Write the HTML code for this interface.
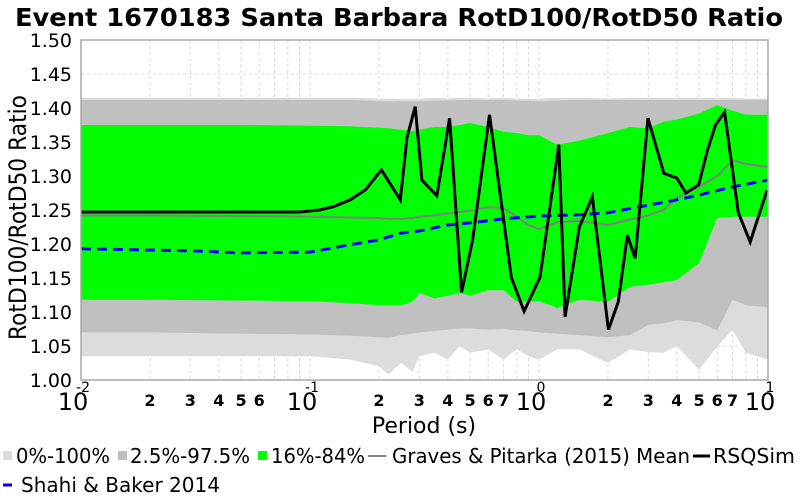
<!DOCTYPE html>
<html><head><meta charset="utf-8"><style>
html,body{margin:0;padding:0;background:#fff;}
svg{display:block;font-family:"DejaVu Sans","Liberation Sans",sans-serif;}
</style></head><body>
<svg id="chart" width="800" height="500" viewBox="0 0 800 500"></svg>
<script>
// ---- data ----
const bandPeriods=[0.01,0.02,0.05,0.1,0.15,0.2,0.22,0.25,0.28,0.3,0.35,0.4,0.45,0.5,0.6,0.7,0.8,0.9,1.0,1.2,1.5,2.0,2.5,3.0,3.5,4.0,5.0,6.0,7.0,8.0,10.0];
const p0Low=[1.035,1.035,1.035,1.035,1.03,1.02,1.008,1.025,1.012,1.035,1.04,1.03,1.05,1.04,1.045,1.03,1.045,1.035,1.03,1.045,1.045,1.025,1.045,1.041,1.04,1.05,1.015,1.049,1.074,1.04,1.03];
const p0High=[1.415,1.415,1.415,1.415,1.415,1.414,1.414,1.413,1.413,1.414,1.415,1.414,1.415,1.415,1.414,1.415,1.414,1.413,1.414,1.415,1.415,1.414,1.415,1.415,1.415,1.415,1.415,1.415,1.415,1.414,1.414];
const p2Low=[1.07,1.07,1.068,1.067,1.065,1.063,1.062,1.066,1.068,1.07,1.072,1.074,1.076,1.076,1.074,1.075,1.073,1.072,1.07,1.068,1.066,1.063,1.066,1.081,1.083,1.088,1.085,1.073,1.118,1.11,1.107];
const p2High=[1.412,1.412,1.412,1.412,1.412,1.41,1.41,1.41,1.41,1.41,1.411,1.411,1.412,1.412,1.412,1.412,1.411,1.411,1.41,1.411,1.412,1.412,1.412,1.412,1.412,1.412,1.412,1.412,1.412,1.412,1.412];
const p16Low=[1.118,1.118,1.117,1.116,1.113,1.11,1.11,1.11,1.115,1.128,1.12,1.124,1.128,1.124,1.132,1.132,1.115,1.115,1.116,1.106,1.118,1.115,1.137,1.14,1.144,1.147,1.172,1.238,1.24,1.24,1.24];
const p16High=[1.375,1.375,1.375,1.374,1.373,1.371,1.37,1.368,1.366,1.368,1.372,1.372,1.375,1.378,1.372,1.365,1.363,1.36,1.36,1.346,1.352,1.363,1.372,1.37,1.38,1.383,1.392,1.404,1.396,1.39,1.39];
const gpMean=[1.242,1.242,1.241,1.24,1.239,1.238,1.237,1.237,1.238,1.24,1.242,1.245,1.247,1.249,1.254,1.253,1.24,1.228,1.222,1.232,1.234,1.228,1.236,1.242,1.25,1.268,1.284,1.3,1.323,1.318,1.313];
const sbPeriods=[0.01,0.03,0.05,0.1,0.15,0.2,0.25,0.3,0.4,0.5,0.7,1.0,1.5,2.0,3.0,4.0,5.0,7.0,10.0];
const sbValues=[1.193,1.19,1.187,1.188,1.199,1.206,1.216,1.219,1.228,1.231,1.237,1.241,1.243,1.246,1.257,1.265,1.272,1.284,1.294];
const rsPeriods=[0.01,0.05,0.09,0.11,0.127,0.15,0.175,0.205,0.248,0.265,0.288,0.308,0.358,0.407,0.459,0.513,0.608,0.757,0.861,1.01,1.22,1.30,1.50,1.71,2.01,2.22,2.43,2.63,2.99,3.51,4.0,4.38,4.98,5.44,5.9,6.46,7.42,8.36,9.9];
const rsValues=[1.247,1.247,1.247,1.25,1.255,1.265,1.28,1.309,1.265,1.356,1.402,1.294,1.271,1.385,1.129,1.206,1.39,1.151,1.101,1.151,1.346,1.093,1.225,1.269,1.074,1.115,1.213,1.179,1.385,1.304,1.297,1.275,1.287,1.338,1.375,1.394,1.246,1.203,1.279];
const yTicks=[1.00,1.05,1.10,1.15,1.20,1.25,1.30,1.35,1.40,1.45,1.50];
const xMajor=[-2,-1,0,1];
// ---- axes ----
const L=81,R=768,T=40,B=380;
const X=p=>L+(Math.log10(p)+2)/3*(R-L);
const Y=v=>B-(v-1.0)/0.5*(B-T);
const NS="http://www.w3.org/2000/svg";
const svg=document.getElementById('chart');
function mk(tag,attrs,parent){const e=document.createElementNS(NS,tag);for(const k in attrs)e.setAttribute(k,attrs[k]);(parent||svg).appendChild(e);return e;}
function band(lo,hi,fill,name){
  let d='M'+bandPeriods.map((p,i)=>X(p)+','+Y(hi[i])).join('L');
  for(let i=bandPeriods.length-1;i>=0;i--)d+='L'+X(bandPeriods[i])+','+Y(lo[i]);
  const e=mk('path',{d:d+'Z',fill:fill,stroke:'none'});
  
  
}
function line(ps,vs,attrs,name){
  const e=mk('polyline',Object.assign({points:ps.map((p,i)=>X(p)+','+Y(vs[i])).join(' '),fill:'none'},attrs));
  
  
}
// grid
const grid=mk('g',{stroke:'#d8d8d8','stroke-width':1,'stroke-dasharray':'3,3'});


yTicks.forEach(v=>mk('line',{x1:L,x2:R,y1:Y(v),y2:Y(v)},grid));
for(let e=-2;e<1;e++)for(let m=1;m<=9;m++){const x=X(m*Math.pow(10,e));mk('line',{x1:x,x2:x,y1:T,y2:B},grid);}
band(p0Low,p0High,'#dcdcdc','band-0-100');
band(p2Low,p2High,'#c0c0c0','band-2.5-97.5');
band(p16Low,p16High,'#00ff00','band-16-84');
line(bandPeriods,gpMean,{stroke:'#808080','stroke-width':2},'graves-pitarka-mean-line');
line(sbPeriods,sbValues,{stroke:'#0000ff','stroke-width':3,'stroke-dasharray':'10,6'},'shahi-baker-line');
line(rsPeriods,rsValues,{stroke:'#000','stroke-width':3,'stroke-linejoin':'miter'},'rsqsim-line');
const frame=mk('rect',{x:L,y:T,width:R-L,height:B-T,fill:'none',stroke:'#a8a8a8','stroke-width':1.5});


// y tick labels
yTicks.forEach(v=>{const t=mk('text',{x:72,y:Y(v)+7,'text-anchor':'end','font-size':19,fill:'#000'});t.textContent=v.toFixed(2);

});
// x tick labels
xMajor.forEach(e=>{const x=X(Math.pow(10,e));
 const t=mk('text',{x:x-8,y:410,'text-anchor':'middle','font-size':24,fill:'#000'});t.textContent='10';
 
 
 const s=mk('text',{x:x+2,y:392,'text-anchor':'middle','font-size':14,fill:'#000'});s.textContent=String(e);
 
 });
for(let e=-2;e<1;e++){const ms=e===-2?[2,3,4,5,6]:[2,3,4,5,6,7];
 ms.forEach(m=>{const t=mk('text',{x:X(m*Math.pow(10,e)),y:406,'text-anchor':'middle','font-size':16,'font-weight':'bold',fill:'#000'});t.textContent=m;
 
 });}
</script>
<svg width="800" height="500" style="position:absolute;left:0;top:0;font-family:'DejaVu Sans','Liberation Sans',sans-serif">
<text x="15" y="26" font-size="25" font-weight="bold" textLength="768" lengthAdjust="spacingAndGlyphs">Event 1670183 Santa Barbara RotD100/RotD50 Ratio</text>
<text x="424" y="433" text-anchor="middle" font-size="22">Period (s)</text>
<text transform="translate(26,340) rotate(-90)" font-size="24" textLength="245" lengthAdjust="spacingAndGlyphs">RotD100/RotD50 Ratio</text>
<g font-size="20">
<rect x="3" y="451" width="9" height="9" fill="#dcdcdc"/>
<text x="16" y="463" textLength="94" lengthAdjust="spacingAndGlyphs">0%-100%</text>
<rect x="118" y="451" width="9" height="9" fill="#c0c0c0"/>
<text x="130" y="463" textLength="120" lengthAdjust="spacingAndGlyphs">2.5%-97.5%</text>
<rect x="258" y="451" width="9" height="9" fill="#00ff00"/>
<text x="271" y="463" textLength="94" lengthAdjust="spacingAndGlyphs">16%-84%</text>
<line x1="368" y1="456" x2="386" y2="456" stroke="#808080" stroke-width="2"/>
<text x="392" y="463" textLength="298" lengthAdjust="spacingAndGlyphs">Graves &amp; Pitarka (2015) Mean</text>
<line x1="693" y1="456" x2="710" y2="456" stroke="#000" stroke-width="3"/>
<text x="713" y="463" textLength="82" lengthAdjust="spacingAndGlyphs">RSQSim</text>
<line x1="3" y1="485" x2="12" y2="485" stroke="#0000ff" stroke-width="3"/>
<text x="21" y="492" textLength="199" lengthAdjust="spacingAndGlyphs">Shahi &amp; Baker 2014</text>
</g>
</svg>
</body></html>
